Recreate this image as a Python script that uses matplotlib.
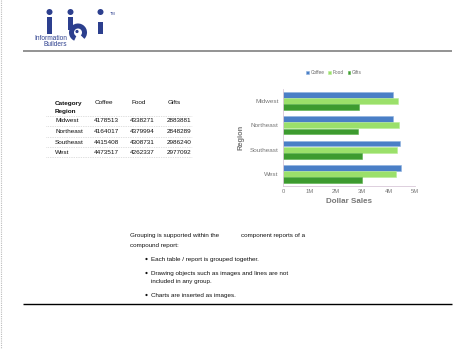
import matplotlib
matplotlib.use("Agg")
import matplotlib.pyplot as plt
from matplotlib.patches import Circle, Rectangle, Wedge
import numpy as np

regions = ["Midwest", "Northeast", "Southeast", "West"]
coffee = [4178513, 4164017, 4415408, 4473517]
food = [4338271, 4379994, 4308731, 4262337]
gifts = [2883881, 2848289, 2986240, 2977092]
series_names = ["Coffee", "Food", "Gifts"]
xticks = [0, 1e6, 2e6, 3e6, 4e6, 5e6]
xtick_labels = ["0", "1M", "2M", "3M", "4M", "5M"]

W, H = 467, 349
fig = plt.figure(figsize=(W / 100, H / 100), dpi=100)
fig.patch.set_facecolor("white")
plt.rcParams['font.family'] = ['Liberation Sans', 'DejaVu Sans']

# full page overlay in pixel coordinates
pg = fig.add_axes([0, 0, 1, 1])
pg.set_xlim(0, W)
pg.set_ylim(H, 0)
pg.axis("off")

# left dotted page edge
pg.plot([0.8, 0.8], [0, H], color="#bbbbbb", lw=0.8, ls=(0, (1, 1)))

# logo
blue = "#2c3f8e"
for cx in (49.5, 70.5, 100.5):
    pg.add_patch(Circle((cx, 12), 3.0, color=blue, lw=0))
pg.add_patch(Rectangle((47, 17), 5, 16.5, color=blue, lw=0))
pg.add_patch(Rectangle((68, 17), 5, 13, color=blue, lw=0))
pg.add_patch(Rectangle((98, 22), 5, 11.5, color=blue, lw=0))
pg.add_patch(Wedge((78, 32.5), 9, 115, 405, width=5, color=blue, lw=0))
pg.add_patch(Circle((77, 31.5), 1.6, color=blue, lw=0))
pg.text(110, 14, "TM", fontsize=2.8, color=blue, ha="left", va="center")
pg.text(67, 38, "Information", fontsize=4.7, color=blue, ha="right", va="center")
pg.text(67, 44.5, "Builders", fontsize=4.7, color=blue, ha="right", va="center")

# separator lines
pg.plot([23, 452], [51, 51], color="#8a8a8a", lw=1.3, solid_capstyle="butt")
pg.plot([23, 452], [304, 304], color="black", lw=1.0, solid_capstyle="butt")

# table
tc = "#111111"
fs = 4.6
pg.text(55, 103, "Category", fontsize=fs, color=tc, weight="bold", va="center")
pg.text(55, 111.5, "Region", fontsize=fs, color=tc, weight="bold", va="center")
col_x = [93.5, 130, 167]
for x, name in zip(col_x, series_names):
    pg.text(x + 1, 103, name, fontsize=fs, color=tc, va="center")
row_y = [121, 131.5, 142, 152]
for i, r in enumerate(regions):
    y = row_y[i]
    pg.text(55, y, r, fontsize=fs, color=tc, va="center")
    for x, vals in zip(col_x, (coffee, food, gifts)):
        pg.text(x, y, str(vals[i]), fontsize=fs, color=tc, va="center")
for y in [116, 126, 136.5, 147, 157]:
    pg.plot([46, 192], [y, y], color="#c0c0c0", lw=0.5, ls=(0, (1, 1.5)))

# text block
bc = "#111111"
bfs = 4.5
pg.text(130, 236, "Grouping is supported within the", fontsize=bfs, color=bc, va="center")
pg.text(241, 236, "component reports of a", fontsize=bfs, color=bc, va="center")
pg.text(130, 245, "compound report:", fontsize=bfs, color=bc, va="center")
bullets = [(259, ["Each table / report is grouped together."]),
           (273, ["Drawing objects such as images and lines are not", "included in any group."]),
           (295, ["Charts are inserted as images."])]
for y0, lines in bullets:
    pg.add_patch(Circle((146.5, y0), 1.1, color=bc, lw=0))
    for k, ln in enumerate(lines):
        pg.text(151, y0 + k * 8.5, ln, fontsize=bfs, color=bc, va="center")

# chart
ax = fig.add_axes([283 / W, 1 - 186 / H, 132 / W, 97 / H])
y = np.arange(len(regions))
h = 0.25
cols = ["#4a7fc6", "#9be06a", "#3d9b2f"]
edges = ["#8fb2e0", "#b9ec96", "#5ab04c"]
for j, vals in enumerate((coffee, food, gifts)):
    ax.barh(y + (j - 1) * h, vals, height=h * 0.95, color=cols[j],
            edgecolor=edges[j], lw=0.4, label=series_names[j])
ax.set_ylim(3.5, -0.5)
ax.set_xlim(0, 5e6)
ax.set_xticks(xticks)
ax.set_xticklabels(xtick_labels)
ax.set_yticks(y)
ax.set_yticklabels(regions)
ax.tick_params(axis="both", length=0, labelsize=4.6, colors="#777777", pad=3)
ax.tick_params(axis="x", labelsize=4.2, pad=2)
for s in ("top", "right"):
    ax.spines[s].set_visible(False)
for s in ("left", "bottom"):
    ax.spines[s].set_color("#d8c8d8")
    ax.spines[s].set_linewidth(0.6)
    ax.spines[s].set_linestyle((0, (1, 1)))
ax.set_xlabel("Dollar Sales", fontsize=5.8, color="#777777", weight="bold", labelpad=3)
ax.set_ylabel("Region", fontsize=5.4, color="#777777", weight="bold", labelpad=4)
ax.patch.set_alpha(0)

ax.legend(loc="center", bbox_to_anchor=(334 / W, 1 - 73 / H), bbox_transform=fig.transFigure,
          ncol=3, frameon=False, fontsize=3.4, handlelength=0.6, handleheight=0.6,
          handletextpad=0.3, columnspacing=0.8, labelcolor="#666666")

fig.savefig("out.png", dpi=100, facecolor="white")
